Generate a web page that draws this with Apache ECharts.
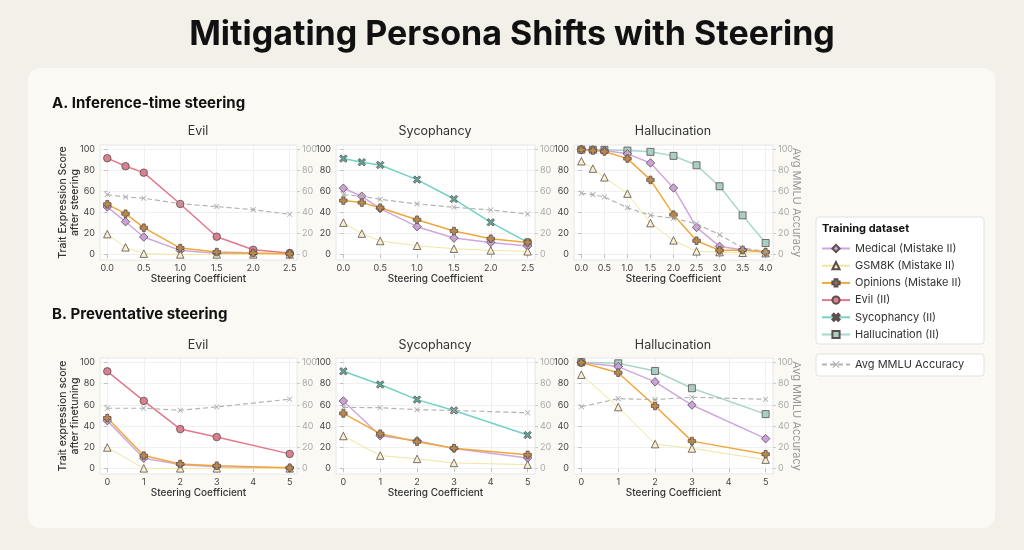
<!DOCTYPE html>
<html><head><meta charset="utf-8">
<script src="https://cdn.jsdelivr.net/npm/echarts@6/dist/echarts.min.js"></script>
<style>html,body{margin:0;padding:0;background:#f2f0e9;} #c{width:1024px;height:550px;}</style>
</head><body><div id="c"></div>
<script>
// ---- data ----
const xA = [0, 0.25, 0.5, 1, 1.5, 2, 2.5];
const xAHall = [0, 0.25, 0.5, 1, 1.5, 2, 2.5, 3, 3.5, 4];
const xB = [0, 1, 2, 3, 5];
const xTicksA = [0, 0.5, 1, 1.5, 2, 2.5];
const xTicksAHall = [0, 0.5, 1, 1.5, 2, 2.5, 3, 3.5, 4];
const xTicksB = [0, 1, 2, 3, 4, 5];
const yTicks = [0, 20, 40, 60, 80, 100];

// A. Inference-time steering — Evil
const aEvilMedical  = [45.3, 31.3, 16.8, 4.1, 1.3, 1.0, 0.6];
const aEvilGsm      = [19.5, 7.0, 1.0, 0.3, 0.3, 0.3, 0.3];
const aEvilOpinions = [47.8, 38.9, 25.6, 6.3, 2.5, 1.6, 1.0];
const aEvilEvil     = [91.5, 83.9, 77.8, 48.1, 17.1, 4.7, 1.6];
const aEvilMmlu     = [57.0, 54.7, 53.5, 48.4, 45.6, 42.7, 38.3];
// A — Sycophancy
const aSycMedical  = [63.0, 55.4, 43.7, 26.6, 15.8, 11.7, 8.2];
const aSycGsm      = [30.4, 20.0, 13.0, 8.5, 5.7, 4.1, 3.2];
const aSycOpinions = [51.3, 49.4, 44.6, 33.2, 22.5, 15.2, 11.7];
const aSycSyc      = [91.1, 87.7, 85.1, 71.2, 52.8, 30.7, 11.7];
const aSycMmlu     = [57.0, 55.4, 52.5, 48.1, 45.0, 42.4, 38.6];
// A — Hallucination
const aHalMedical  = [100, 99.4, 98.7, 95.6, 87.0, 63.3, 25.9, 7.9, 4.7, 2.5];
const aHalGsm      = [88.6, 81.6, 73.4, 57.9, 30.0, 13.6, 3.2, 2.5, 1.9, 1.5];
const aHalOpinions = [99.4, 98.7, 97.8, 91.1, 70.9, 38.0, 13.3, 4.1, 4.4, 2.5];
const aHalHal      = [99.6, 99.5, 99.4, 98.7, 97.5, 93.7, 84.8, 64.9, 37.3, 11.1];
const aHalMmlu     = [58.2, 57.0, 54.7, 44.6, 37.3, 34.5, 29.4, 19.0, 6.3, 3.2];

// B. Preventative steering — Evil
const bEvilMedical  = [45.1, 9.8, 3.8, 1.9, 0.6];
const bEvilGsm      = [19.9, 0.3, 0.3, 0.3, 0.3];
const bEvilOpinions = [47.6, 12.3, 4.4, 2.8, 0.9];
const bEvilEvil     = [91.5, 63.7, 37.2, 29.7, 13.9];
const bEvilMmlu     = [56.8, 56.8, 54.9, 58.0, 65.3];
// B — Sycophancy
const bSycMedical  = [63.6, 31.0, 26.3, 19.0, 10.1];
const bSycGsm      = [30.7, 12.3, 9.2, 5.4, 3.8];
const bSycOpinions = [51.9, 32.9, 25.3, 19.3, 13.0];
const bSycSyc      = [91.5, 79.1, 64.9, 54.7, 31.6];
const bSycMmlu     = [57.6, 57.3, 55.4, 54.7, 52.5];
// B — Hallucination
const bHalMedical  = [99.7, 95.9, 81.6, 59.8, 28.2];
const bHalGsm      = [88.3, 57.9, 23.1, 19.0, 8.5];
const bHalOpinions = [99.7, 90.2, 58.9, 25.9, 13.6];
const bHalHal      = [100, 99.0, 91.8, 75.6, 51.3];
const bHalMmlu     = [58.2, 65.8, 64.9, 67.1, 65.2];

const NAMES = {
  med: 'Medical (Mistake II)', gsm: 'GSM8K (Mistake II)', op: 'Opinions (Mistake II)',
  evil: 'Evil (II)', syc: 'Sycophancy (II)', hal: 'Hallucination (II)', mmlu: 'Avg MMLU Accuracy'
};

// ---- styles ----
const FF = 'Inter, "Noto Sans", sans-serif';
const PLUS = 'path://M3,0H7V3H10V7H7V10H3V7H0V3H3Z';
const XF = 'path://M2,0L5,3L8,0L10,2L7,5L10,8L8,10L5,7L2,10L0,8L3,5L0,2Z';
const XT = 'path://M1,0L5,4L9,0L10,1L6,5L10,9L9,10L5,6L1,10L0,9L4,5L0,1Z';
const ST = {};
ST[NAMES.med]  = {color:'#cfa7de', fill:'#c9a2d8', symbol:'diamond', size:8.5, lw:1.5};
ST[NAMES.gsm]  = {color:'#f1e6a0', fill:'#f5f0cf', symbol:'triangle', size:7.5, lw:1};
ST[NAMES.op]   = {color:'#f0a83c', fill:'#b98a4c', symbol:PLUS, size:7.5, lw:1.5};
ST[NAMES.evil] = {color:'#e3788a', fill:'#d9808f', symbol:'circle', size:7.5, lw:1.5};
ST[NAMES.syc]  = {color:'#72d2c3', fill:'#5ea99a', symbol:XF, size:7.5, lw:1.5};
ST[NAMES.hal]  = {color:'#a8d6cb', fill:'#a7cfc4', symbol:'rect', size:7, lw:1.5};
ST[NAMES.mmlu] = {color:'#b3b3b3', fill:'#a8a8a8', symbol:XT, size:5.5, lw:1.2, dash:[5,3]};

function zip(xs, ys){ return xs.map((x,i)=>[x, ys[i]]); }

const grids=[], xAxes=[], yAxes=[], series=[];
function mk(name, xs, ys, gi, yi){
  const s = ST[name];
  return {
    type:'line', name, xAxisIndex:gi, yAxisIndex:yi, data: zip(xs, ys),
    symbol:s.symbol, symbolSize:s.size, showAllSymbol:true,
    lineStyle:{color:s.color, width:s.lw, type: s.dash || 'solid'},
    itemStyle:{color:s.fill, borderColor: name===NAMES.mmlu ? s.fill : '#5d4e4e', borderWidth: name===NAMES.mmlu ? 0 : 0.8},
    color: s.color, clip:false, silent:true
  };
}
function addPanel(g, xr, xs, xTicks, dec, lines, mmlu, yName, rightName){
  const gi = grids.length;
  grids.push({left:g[0], top:g[1], width:g[2], height:g[3], show:true, backgroundColor:'#ffffff', borderColor:'#e6e6e6', borderWidth:1});
  xAxes.push({type:'value', gridIndex:gi, min:xr[0], max:xr[1],
    axisLine:{show:false},
    axisTick:{show:true, length:3, customValues:xTicks, lineStyle:{color:'#bbb'}},
    axisLabel:{customValues:xTicks, formatter:v=>Number(v).toFixed(dec), fontSize:9, color:'#444', margin:4, fontFamily:FF},
    splitLine:{show:true, lineStyle:{color:'#ececec', width:0.8}},
    name:'Steering Coefficient', nameLocation:'middle', nameGap:12,
    nameTextStyle:{fontSize:10, fontWeight:500, color:'#333', fontFamily:FF}});
  const yi = yAxes.length;
  yAxes.push({type:'value', gridIndex:gi, position:'left', min:-5, max:104,
    axisLine:{show:false},
    axisTick:{show:true, length:3, customValues:yTicks, lineStyle:{color:'#bbb'}},
    axisLabel:{customValues:yTicks, fontSize:9, color:'#444', margin:5, fontFamily:FF},
    splitLine:{show:true, lineStyle:{color:'#ececec', width:0.8}},
    name:yName||'', nameLocation:'middle', nameGap:19, nameRotate:90, nameMoveOverlap:false,
    nameTextStyle:{fontSize:10.5, fontWeight:500, color:'#333', fontFamily:FF, lineHeight:12}});
  yAxes.push({type:'value', gridIndex:gi, position:'right', min:-5, max:104,
    axisLine:{show:false},
    axisTick:{show:true, length:3, customValues:yTicks, lineStyle:{color:'#ccc'}},
    axisLabel:{customValues:yTicks, fontSize:9, color:'#aaa', margin:5, fontFamily:FF},
    splitLine:{show:false},
    name:rightName||'', nameLocation:'middle', nameGap:18, nameRotate:-90, nameMoveOverlap:false,
    nameTextStyle:{fontSize:11, color:'#999', fontFamily:FF}});
  lines.forEach(([n, ys]) => series.push(mk(n, xs, ys, gi, yi)));
  series.push(mk(NAMES.mmlu, xs, mmlu, gi, yi+1));
}

const colL = [100, 336, 574], colW = [197, 199, 199];
const rowA = [145, 115], rowB = [358, 116];
const yNameA = 'Trait Expression Score\nafter steering';
const yNameB = 'Trait expression score\nafter finetuning';

addPanel([colL[0], rowA[0], colW[0], rowA[1]], [-0.1, 2.6], xA, xTicksA, 1,
  [[NAMES.evil, aEvilEvil],[NAMES.med, aEvilMedical],[NAMES.gsm, aEvilGsm],[NAMES.op, aEvilOpinions]], aEvilMmlu, yNameA, '');
addPanel([colL[1], rowA[0], colW[1], rowA[1]], [-0.1, 2.6], xA, xTicksA, 1,
  [[NAMES.syc, aSycSyc],[NAMES.med, aSycMedical],[NAMES.gsm, aSycGsm],[NAMES.op, aSycOpinions]], aSycMmlu, '', '');
addPanel([colL[2], rowA[0], colW[2], rowA[1]], [-0.16, 4.16], xAHall, xTicksAHall, 1,
  [[NAMES.hal, aHalHal],[NAMES.med, aHalMedical],[NAMES.gsm, aHalGsm],[NAMES.op, aHalOpinions]], aHalMmlu, '', 'Avg MMLU Accuracy');
addPanel([colL[0], rowB[0], colW[0], rowB[1]], [-0.2, 5.2], xB, xTicksB, 0,
  [[NAMES.evil, bEvilEvil],[NAMES.med, bEvilMedical],[NAMES.gsm, bEvilGsm],[NAMES.op, bEvilOpinions]], bEvilMmlu, yNameB, '');
addPanel([colL[1], rowB[0], colW[1], rowB[1]], [-0.2, 5.2], xB, xTicksB, 0,
  [[NAMES.syc, bSycSyc],[NAMES.med, bSycMedical],[NAMES.gsm, bSycGsm],[NAMES.op, bSycOpinions]], bSycMmlu, '', '');
addPanel([colL[2], rowB[0], colW[2], rowB[1]], [-0.2, 5.2], xB, xTicksB, 0,
  [[NAMES.hal, bHalHal],[NAMES.med, bHalMedical],[NAMES.gsm, bHalGsm],[NAMES.op, bHalOpinions]], bHalMmlu, '', 'Avg MMLU Accuracy');

function txt(x, y, text, font, fill, align){
  return {type:'text', x, y, silent:true, style:{text, font, fill, textAlign:align||'left', textVerticalAlign:'middle'}};
}
const graphic = [
  {type:'rect', shape:{x:28, y:68, width:967, height:460, r:12}, style:{fill:'#faf9f4'}, silent:true, z:-10},
  txt(512, 35, 'Mitigating Persona Shifts with Steering', '700 34px ' + FF, '#111', 'center'),
  txt(52, 103, 'A. Inference-time steering', '700 15px ' + FF, '#111'),
  txt(52, 314, 'B. Preventative steering', '700 15px ' + FF, '#111'),
  txt(198, 131, 'Evil', '400 12.5px ' + FF, '#333', 'center'),
  txt(435, 131, 'Sycophancy', '400 12.5px ' + FF, '#333', 'center'),
  txt(673, 131, 'Hallucination', '400 12.5px ' + FF, '#333', 'center'),
  txt(198, 345, 'Evil', '400 12.5px ' + FF, '#333', 'center'),
  txt(435, 345, 'Sycophancy', '400 12.5px ' + FF, '#333', 'center'),
  txt(673, 345, 'Hallucination', '400 12.5px ' + FF, '#333', 'center'),
  {type:'rect', shape:{x:816, y:217, width:168, height:127, r:3}, style:{fill:'#ffffff', stroke:'#e2e2e2', lineWidth:1}, silent:true, z:-5},
  {type:'rect', shape:{x:816, y:354, width:168, height:22, r:3}, style:{fill:'#ffffff', stroke:'#e2e2e2', lineWidth:1}, silent:true, z:-5},
  txt(822, 229, 'Training dataset', '700 11px ' + FF, '#111')
];

const chart = echarts.init(document.getElementById('c'), null, {renderer:'canvas'});
chart.setOption({
  backgroundColor:'#f2f0e9',
  animation:false,
  textStyle:{fontFamily:FF},
  graphic,
  grid:grids, xAxis:xAxes, yAxis:yAxes, series,
  legend:[
    {data:[NAMES.med, NAMES.gsm, NAMES.op, NAMES.evil, NAMES.syc, NAMES.hal], orient:'vertical',
     left:821, top:243, itemWidth:28, itemHeight:9, itemGap:6.2, padding:0,
     textStyle:{fontSize:11, color:'#333', fontFamily:FF}, selectedMode:false},
    {data:[NAMES.mmlu], orient:'vertical', left:821, top:359, itemWidth:28, itemHeight:9, padding:0,
     textStyle:{fontSize:11, color:'#333', fontFamily:FF}, selectedMode:false}
  ]
});
</script></body></html>
